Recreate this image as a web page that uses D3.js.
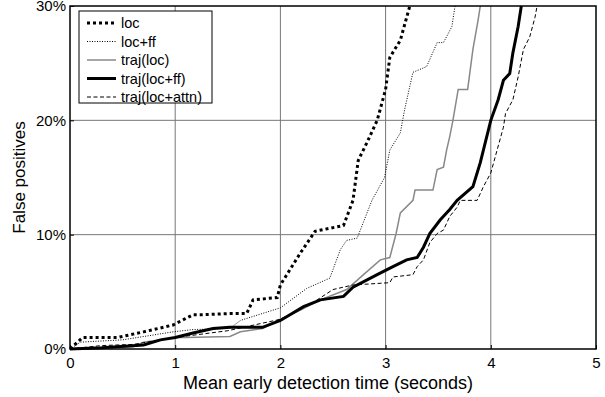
<!DOCTYPE html>
<meta charset="utf-8">
<script src="https://d3js.org/d3.v7.min.js"></script>
<style>
  body { margin: 0; background: #fff; }
  text { font-family: Arial, "Liberation Sans", sans-serif; fill: #000; }
</style>
<div id="chart"></div>
<script>

// data (time in seconds, false positives in %)
var seriesNames = ["loc", "loc+ff", "traj(loc)", "traj(loc+ff)", "traj(loc+attn)"];

var locT  = [0, 0.12, 0.45, 0.7, 0.98, 1.17, 1.26, 1.52, 1.68, 1.74, 1.97, 2.0, 2.19, 2.33, 2.6, 2.69, 2.74, 2.82, 2.92, 3.0, 3.04, 3.14, 3.23];
var locFP = [0, 1.0, 1.0, 1.5, 2.1, 3.0, 3.0, 3.1, 3.1, 4.3, 4.5, 5.6, 8.4, 10.3, 10.8, 13, 16.5, 18, 20, 22.7, 25.5, 27, 30];

var locffT  = [0, 0.1, 0.5, 0.98, 1.17, 1.52, 1.62, 2.0, 2.25, 2.47, 2.57, 2.63, 2.73, 2.87, 2.99, 3.04, 3.14, 3.18, 3.26, 3.39, 3.49, 3.55, 3.63, 3.66];
var locffFP = [0, 0.6, 0.8, 1.5, 1.7, 1.8, 2.5, 3.6, 5.3, 6.2, 8.7, 9.5, 9.7, 13, 15, 17.4, 18.9, 20.9, 24.2, 24.7, 26.8, 26.8, 28.2, 30];

var trajT  = [0, 0.6, 0.7, 1.0, 1.1, 1.52, 1.62, 1.83, 2.0, 2.19, 2.38, 2.63, 2.79, 2.95, 3.04, 3.1, 3.14, 3.26, 3.28, 3.45, 3.49, 3.55, 3.58, 3.61, 3.64, 3.69, 3.78, 3.83, 3.88, 3.9];
var trajFP = [0, 0.2, 0.6, 1.0, 1.0, 1.1, 1.5, 1.8, 2.6, 3.4, 4.3, 5.2, 6.5, 7.8, 8.0, 10.1, 11.9, 13, 13.9, 13.9, 15.7, 15.9, 17.4, 18.6, 20, 22.7, 22.7, 26.2, 28.8, 30];

var trajffT  = [0, 0.3, 0.7, 0.86, 1.0, 1.17, 1.36, 1.52, 1.83, 2.0, 2.22, 2.38, 2.6, 2.69, 2.92, 3.07, 3.2, 3.3, 3.36, 3.42, 3.52, 3.61, 3.68, 3.83, 3.9, 4.0, 4.07, 4.12, 4.18, 4.21, 4.26, 4.29];
var trajffFP = [0, 0.1, 0.35, 0.8, 1.0, 1.4, 1.8, 1.9, 1.9, 2.5, 3.7, 4.3, 4.6, 5.4, 6.5, 7.2, 7.8, 8.0, 8.9, 10.1, 11.3, 12.2, 13, 14.2, 16.3, 20, 21.8, 23.5, 24.1, 25.9, 28.2, 30];

var attnT  = [0, 0.3, 0.6, 1.0, 1.5, 2.0, 2.3, 2.5, 2.69, 3.04, 3.07, 3.26, 3.3, 3.36, 3.42, 3.49, 3.55, 3.61, 3.68, 3.71, 3.87, 3.93, 4.0, 4.06, 4.12, 4.14, 4.21, 4.26, 4.31, 4.37, 4.42, 4.44];
var attnFP = [0, 0.3, 0.4, 1.0, 1.6, 2.6, 4.0, 5.2, 5.6, 5.8, 6.3, 6.5, 7.2, 7.8, 9.3, 10.1, 10.4, 11.6, 12.4, 13, 13, 14.2, 15.4, 17.4, 19.4, 20.6, 21.8, 23.8, 26.2, 27.3, 29, 30];

var xTicks = [0, 1, 2, 3, 4, 5];
var yTicks = [0, 10, 20, 30];

// line styles for each series
var styles = [
  {w: 3,   color: "#000", dash: "3,3"},
  {w: 1,   color: "#000", dash: "1,1.5"},
  {w: 1.5, color: "#888", dash: null},
  {w: 3,   color: "#000", dash: null},
  {w: 1,   color: "#000", dash: "4,2.5"}
];

var allT  = [locT, locffT, trajT, trajffT, attnT];
var allFP = [locFP, locffFP, trajFP, trajffFP, attnFP];
var series = seriesNames.map(function(n, i) {
  return {name: n, style: styles[i], values: allT[i].map(function(t, j) { return [t, allFP[i][j]]; })};
});

var margin = {top: 6, right: 9, bottom: 48, left: 70},
    width = 605 - margin.left - margin.right,
    height = 397 - margin.top - margin.bottom;

var svg = d3.select("#chart")
  .append("svg")
    .attr("width", 605)
    .attr("height", 397)
  .append("g")
    .attr("transform", "translate(" + margin.left + "," + margin.top + ")");

var x = d3.scaleLinear().domain([0, 5]).range([0, width]);
var y = d3.scaleLinear().domain([0, 30]).range([height, 0]);

// grid
svg.selectAll(".vgrid")
  .data(xTicks.slice(1, -1))
  .enter().append("line")
    .attr("x1", function(d) { return x(d); })
    .attr("x2", function(d) { return x(d); })
    .attr("y1", 0).attr("y2", height)
    .attr("stroke", "#777").attr("stroke-width", 1);
svg.selectAll(".hgrid")
  .data(yTicks.slice(1, -1))
  .enter().append("line")
    .attr("y1", function(d) { return y(d); })
    .attr("y2", function(d) { return y(d); })
    .attr("x1", 0).attr("x2", width)
    .attr("stroke", "#777").attr("stroke-width", 1);

// axes, ticks point inward like matlab
svg.append("g")
  .attr("transform", "translate(0," + height + ")")
  .call(d3.axisBottom(x).tickValues(xTicks).tickSize(-4).tickPadding(8).tickFormat(d3.format("d")))
  .call(function(g) {
    g.select(".domain").remove();
    g.selectAll("text").style("font-size", "15px").attr("font-family", null);
  });

svg.append("g")
  .call(d3.axisLeft(y).tickValues(yTicks).tickSize(-4).tickPadding(4).tickFormat(function(d) { return d + "%"; }))
  .call(function(g) {
    g.select(".domain").remove();
    g.selectAll("text").style("font-size", "15px").attr("font-family", null);
  });

// curves
var line = d3.line()
  .x(function(d) { return x(d[0]); })
  .y(function(d) { return y(d[1]); });

svg.selectAll(".curve")
  .data(series)
  .enter().append("path")
    .attr("d", function(d) { return line(d.values); })
    .attr("fill", "none")
    .attr("stroke", function(d) { return d.style.color; })
    .attr("stroke-width", function(d) { return d.style.w; })
    .attr("stroke-dasharray", function(d) { return d.style.dash; });

// frame
svg.append("rect")
  .attr("width", width).attr("height", height)
  .attr("fill", "none").attr("stroke", "#000").attr("stroke-width", 1.5);

// axis titles
svg.append("text")
  .attr("x", width / 2 - 5).attr("y", height + 40)
  .attr("text-anchor", "middle")
  .style("font-size", "18px")
  .text("Mean early detection time (seconds)");

svg.append("text")
  .attr("transform", "translate(" + (-45) + "," + (height / 2) + ")rotate(-90)")
  .attr("text-anchor", "middle")
  .style("font-size", "17px")
  .text("False positives");

// legend
var legend = svg.append("g").attr("transform", "translate(9,5)");
legend.append("rect")
  .attr("width", 133).attr("height", 92)
  .attr("fill", "#fff").attr("stroke", "#000").attr("stroke-width", 1);

var rows = legend.selectAll(".row")
  .data(series)
  .enter().append("g")
    .attr("transform", function(d, i) { return "translate(0," + (12 + i * 18.5) + ")"; });
rows.append("line")
  .attr("x1", 8).attr("x2", 37)
  .attr("stroke", function(d) { return d.style.color; })
  .attr("stroke-width", function(d) { return d.style.w; })
  .attr("stroke-dasharray", function(d) { return d.style.dash; });
rows.append("text")
  .attr("x", 42).attr("dy", "0.35em")
  .style("font-size", "14.5px")
  .text(function(d) { return d.name; });

</script>
